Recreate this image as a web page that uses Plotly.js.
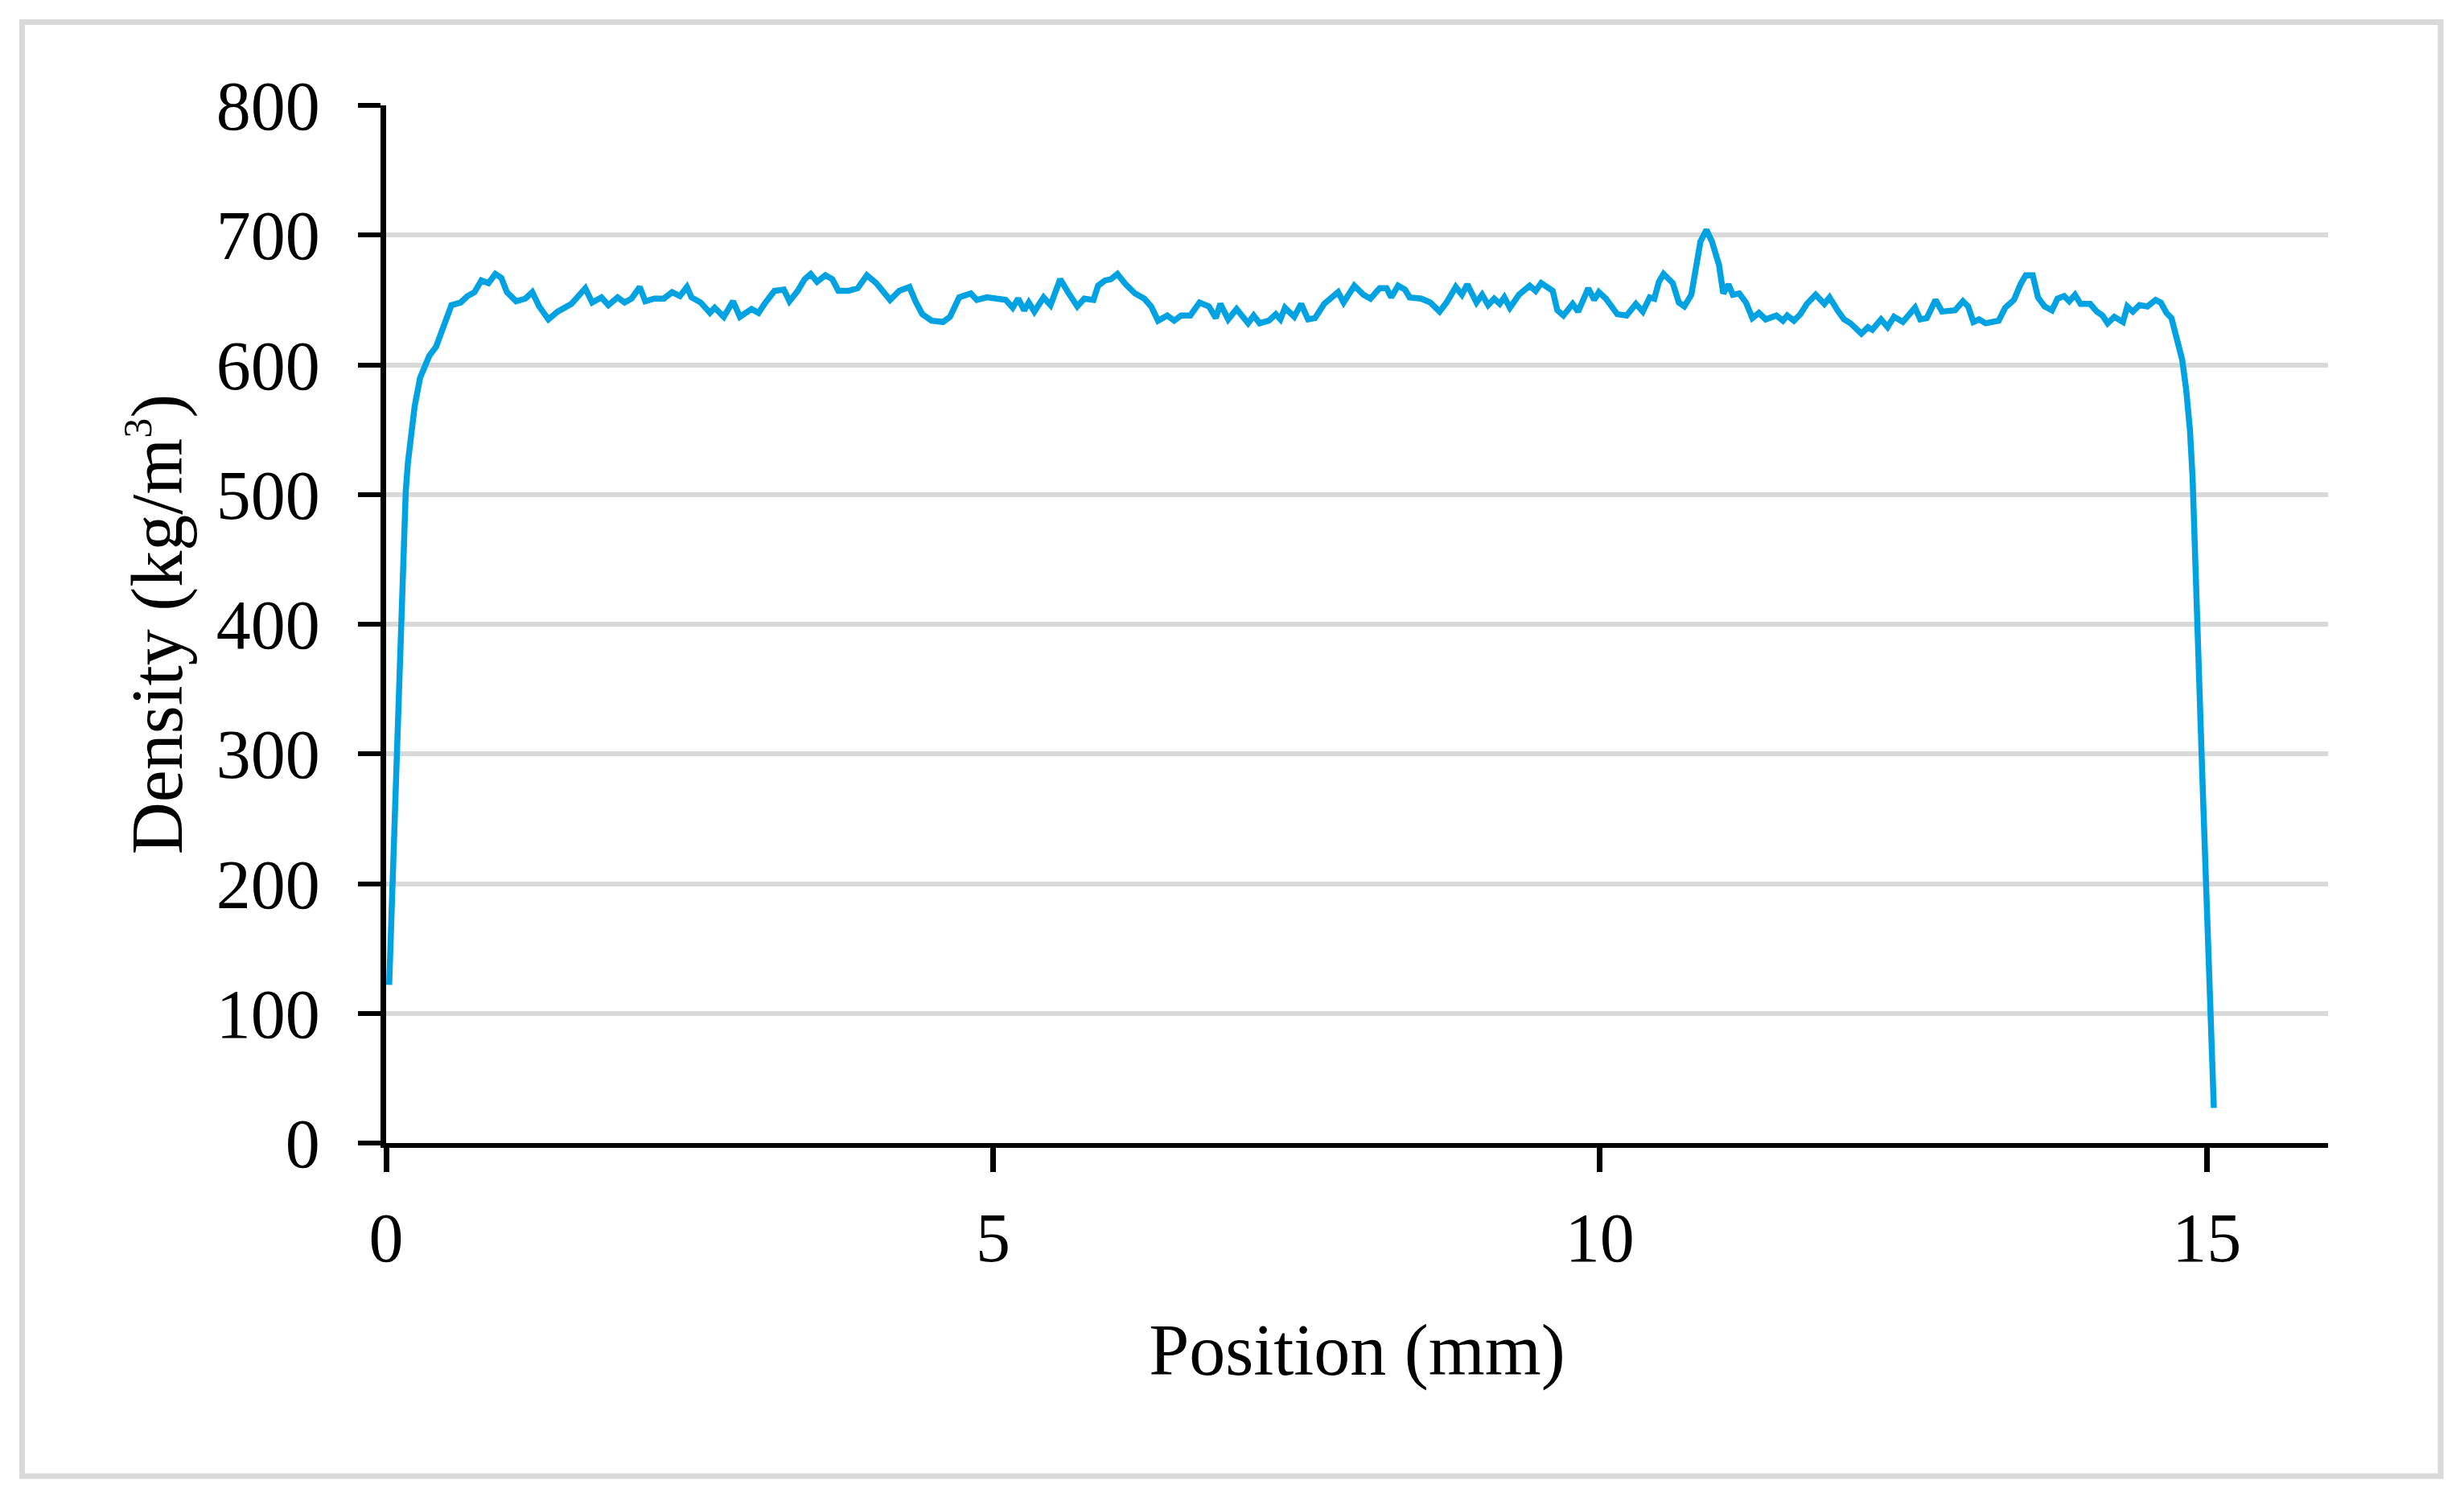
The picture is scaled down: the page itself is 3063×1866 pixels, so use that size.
<!DOCTYPE html>
<html>
<head>
<meta charset="utf-8">
<script src="https://cdn.plot.ly/plotly-3.0.1.min.js"></script>
<style>
html, body { margin: 0; padding: 0; background: #ffffff; }
#chart { width: 3063px; height: 1866px; }
</style>
</head>
<body>
<div id="chart"></div>
<script>
// Position along the sample thickness (mm)
const positionMm = [
  0.025, 0.036, 0.052, 0.065, 0.081, 0.094, 0.109, 0.125, 0.140, 0.162,
  0.180, 0.202, 0.235, 0.280, 0.310, 0.356, 0.412, 0.467, 0.538, 0.614,
  0.671, 0.728, 0.785, 0.843, 0.900, 0.949, 0.995, 1.071, 1.147, 1.204,
  1.261, 1.337, 1.413, 1.527, 1.603, 1.641, 1.698, 1.774, 1.831, 1.907,
  1.965, 2.022, 2.090, 2.135, 2.210, 2.288, 2.356, 2.421, 2.478, 2.516,
  2.592, 2.668, 2.707, 2.782, 2.858, 2.915, 3.011, 3.068, 3.125, 3.200,
  3.277, 3.323, 3.391, 3.448, 3.498, 3.550, 3.619, 3.676, 3.726, 3.809,
  3.885, 3.961, 4.038, 4.095, 4.152, 4.228, 4.312, 4.361, 4.418, 4.494,
  4.589, 4.646, 4.722, 4.817, 4.867, 4.950, 5.045, 5.105, 5.162, 5.208,
  5.257, 5.295, 5.341, 5.417, 5.474, 5.554, 5.618, 5.695, 5.752, 5.828,
  5.866, 5.923, 5.972, 6.025, 6.094, 6.170, 6.246, 6.303, 6.360, 6.436,
  6.493, 6.550, 6.626, 6.702, 6.779, 6.836, 6.873, 6.938, 7.007, 7.102,
  7.148, 7.197, 7.273, 7.330, 7.368, 7.406, 7.482, 7.539, 7.596, 7.653,
  7.729, 7.786, 7.843, 7.889, 7.977, 8.053, 8.110, 8.186, 8.243, 8.281,
  8.338, 8.395, 8.433, 8.528, 8.604, 8.680, 8.737, 8.813, 8.863, 8.908,
  8.984, 9.030, 9.080, 9.129, 9.175, 9.213, 9.259, 9.334, 9.422, 9.471,
  9.517, 9.612, 9.650, 9.700, 9.776, 9.821, 9.905, 9.954, 9.992, 10.050,
  10.144, 10.220, 10.297, 10.354, 10.411, 10.449, 10.487, 10.525, 10.601, 10.651,
  10.696, 10.754, 10.792, 10.829, 10.879, 10.924, 10.982, 11.017, 11.060, 11.096,
  11.149, 11.204, 11.257, 11.311, 11.366, 11.455, 11.509, 11.544, 11.599, 11.652,
  11.706, 11.778, 11.850, 11.893, 11.958, 12.012, 12.065, 12.120, 12.155, 12.209,
  12.245, 12.317, 12.371, 12.424, 12.497, 12.597, 12.640, 12.694, 12.766, 12.820,
  12.927, 12.992, 13.035, 13.078, 13.125, 13.179, 13.286, 13.340, 13.412, 13.466,
  13.509, 13.567, 13.610, 13.664, 13.725, 13.771, 13.825, 13.868, 13.915, 13.961,
  14.040, 14.095, 14.141, 14.184, 14.239, 14.310, 14.346, 14.392, 14.446, 14.512,
  14.579, 14.622, 14.669, 14.710, 14.754, 14.798, 14.831, 14.862, 14.884, 14.902,
  14.917, 14.932, 14.948, 14.963, 14.980, 14.998, 15.018, 15.037, 15.052, 15.059
];

// Density (kg/m3)
const densityKgM3 = [
  122, 155, 198, 242, 285, 329, 372, 416, 459, 503,
  525, 546, 568, 590, 597, 607, 614, 629, 646, 648,
  653, 656, 665, 663, 670, 667, 656, 649, 651, 656,
  645, 635, 641, 647, 654, 659, 648, 652, 646, 652,
  648, 651, 660, 649, 651, 651, 656, 653, 660, 652,
  648, 640, 644, 637, 649, 637, 643, 640, 648, 657,
  658, 649, 657, 666, 670, 664, 669, 666, 657, 657,
  659, 669, 663, 656, 650, 657, 660, 649, 639, 634,
  633, 637, 652, 655, 650, 652, 651, 650, 644, 651,
  642, 648, 641, 652, 646, 666, 656, 645, 651, 650,
  661, 665, 666, 670, 662, 655, 651, 645, 634, 638,
  634, 638, 638, 648, 645, 636, 647, 635, 643, 632,
  638, 632, 634, 639, 635, 644, 637, 647, 635, 636,
  647, 652, 656, 648, 661, 654, 651, 659, 659, 652,
  661, 658, 652, 651, 648, 641, 648, 660, 654, 662,
  648, 654, 646, 651, 647, 652, 644, 654, 661, 657,
  663, 657, 642, 638, 647, 641, 659, 650, 656, 651,
  639, 638, 647, 641, 652, 651, 664, 670, 663, 648,
  645, 654, 675, 695, 704, 695, 677, 655, 662, 654,
  655, 648, 636, 640, 635, 638, 634, 638, 634, 639,
  647, 654, 647, 652, 642, 635, 632, 627, 624, 629,
  627, 635, 629, 637, 633, 644, 635, 636, 650, 641,
  642, 649, 645, 633, 635, 632, 634, 644, 650, 662,
  669, 669, 652, 645, 642, 651, 653, 649, 654, 647,
  647, 641, 638, 632, 637, 633, 645, 641, 646, 645,
  650, 648, 640, 636, 622, 604, 581, 550, 513, 468,
  422, 377, 331, 286, 240, 195, 149, 104, 58, 27
];

const xTickVals = [0, 5, 10, 15];
const xTickText = ['0', '5', '10', '15'];
const yTickVals = [0, 100, 200, 300, 400, 500, 600, 700, 800];
const yTickText = ['0', '100', '200', '300', '400', '500', '600', '700', '800'];

const serif = '"Liberation Serif", "DejaVu Serif", serif';

const trace = {
  x: positionMm,
  y: densityKgM3,
  type: 'scatter',
  mode: 'lines',
  line: { color: '#00a2e2', width: 7.5, shape: 'linear' },
  hoverinfo: 'skip',
  showlegend: false
};

const layout = {
  width: 3063,
  height: 1866,
  margin: { l: 480, r: 169, t: 131, b: 445, pad: 0 },
  paper_bgcolor: '#ffffff',
  plot_bgcolor: '#ffffff',
  showlegend: false,
  xaxis: {
    range: [0, 16],
    tickmode: 'array',
    tickvals: xTickVals,
    ticktext: xTickText,
    showgrid: false,
    zeroline: false,
    showline: true,
    linecolor: '#000000',
    linewidth: 6,
    ticks: 'outside',
    ticklen: 30,
    tickwidth: 7,
    tickcolor: '#000000',
    ticklabelstandoff: 8,
    tickfont: { family: serif, size: 86, color: '#000000' },
    title: {
      text: 'Position (mm)',
      font: { family: serif, size: 90, color: '#000000' },
      standoff: 62
    }
  },
  yaxis: {
    range: [0, 800],
    tickmode: 'array',
    tickvals: yTickVals,
    ticktext: yTickText,
    showgrid: true,
    gridcolor: '#d9d9d9',
    gridwidth: 6,
    zeroline: false,
    showline: true,
    linecolor: '#000000',
    linewidth: 7,
    ticks: 'outside',
    ticklen: 28,
    tickwidth: 6,
    tickcolor: '#000000',
    ticklabelstandoff: 30,
    tickfont: { family: serif, size: 86, color: '#000000' },
    title: {
      text: 'Density (kg/m<sup><span style="font-size:50px">3</span></sup>)',
      font: { family: serif, size: 90, color: '#000000' },
      standoff: 15
    }
  },
  shapes: [
    {
      type: 'rect',
      xref: 'paper', yref: 'paper',
      x0: -0.18745, x1: 1.05800,
      y0: -0.32093, y1: 1.08023,
      line: { color: '#d9d9d9', width: 7 },
      fillcolor: 'rgba(0,0,0,0)',
      layer: 'below'
    }
  ]
};

Plotly.newPlot('chart', [trace], layout, { staticPlot: true, displayModeBar: false });
</script>
</body>
</html>
